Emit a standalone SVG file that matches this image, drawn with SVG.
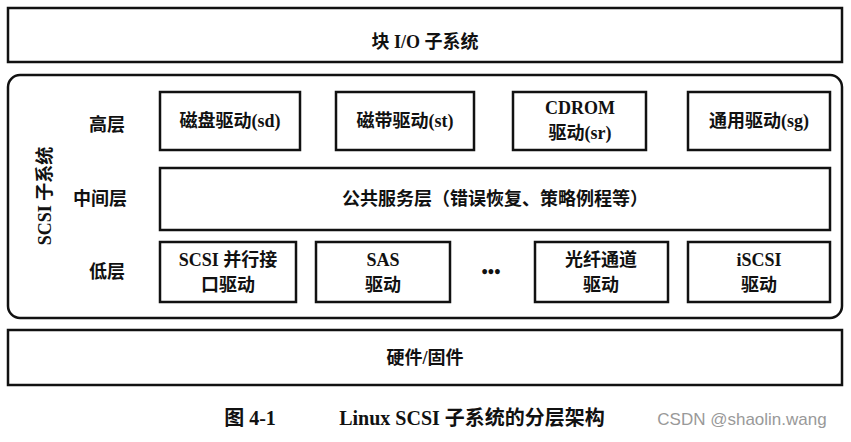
<svg xmlns="http://www.w3.org/2000/svg" width="851" height="442" viewBox="0 0 851 442">
<style>
.b{fill:#fff;stroke:#111;stroke-width:2.5}
.t{font-family:"Liberation Serif","Noto Sans CJK SC",serif;font-size:18px;font-weight:bold;fill:#111;text-anchor:middle;dominant-baseline:central}
</style>
<rect width="851" height="442" fill="#fff"/>
<g id="blockio"><rect class="b" x="8" y="8" width="834" height="54"/><text class="t" x="425" y="42">块 I/O 子系统</text></g>
<g id="scsi"><rect class="b" x="8" y="75" width="834" height="243" rx="12"/>
<text class="t" transform="translate(45,196) rotate(-90)">SCSI 子系统</text>
<text class="t" x="107" y="125">高层</text><text class="t" x="100" y="199">中间层</text><text class="t" x="107" y="272">低层</text></g>
<g id="sd"><rect class="b" x="160" y="92" width="140" height="58"/><text class="t" x="230" y="121">磁盘驱动(sd)</text></g>
<g id="st"><rect class="b" x="336" y="92" width="138" height="58"/><text class="t" x="405" y="121">磁带驱动(st)</text></g>
<g id="sr"><rect class="b" x="513" y="92" width="133" height="58"/><text class="t" x="580" y="108">CDROM</text><text class="t" x="580" y="133">驱动(sr)</text></g>
<g id="sg"><rect class="b" x="688" y="92" width="142" height="58"/><text class="t" x="759" y="121">通用驱动(sg)</text></g>
<g id="mid"><rect class="b" x="160" y="168" width="670" height="62"/><text class="t" x="495" y="199">公共服务层（错误恢复、策略例程等）</text></g>
<g id="spi"><rect class="b" x="160" y="242" width="136" height="60"/><text class="t" x="228" y="260">SCSI 并行接</text><text class="t" x="228" y="285">口驱动</text></g>
<g id="sas"><rect class="b" x="316" y="242" width="134" height="60"/><text class="t" x="383" y="260">SAS</text><text class="t" x="383" y="285">驱动</text></g>
<text class="t" x="491" y="272">•••</text>
<g id="fc"><rect class="b" x="535" y="242" width="133" height="60"/><text class="t" x="601" y="260">光纤通道</text><text class="t" x="601" y="285">驱动</text></g>
<g id="iscsi"><rect class="b" x="688" y="242" width="142" height="60"/><text class="t" x="759" y="260">iSCSI</text><text class="t" x="759" y="285">驱动</text></g>
<g id="hw"><rect class="b" x="8" y="330" width="834" height="55"/><text class="t" x="425" y="358">硬件/固件</text></g>
<g id="connectors"/>
<text class="t" x="250" y="418" style="font-size:20px">图 4-1</text>
<text class="t" x="472" y="418" style="font-size:20px">Linux SCSI 子系统的分层架构</text>
<text x="742" y="425" style="font-family:'Liberation Sans',sans-serif;font-size:17px;fill:#999;text-anchor:middle">CSDN @shaolin.wang</text>
</svg>
